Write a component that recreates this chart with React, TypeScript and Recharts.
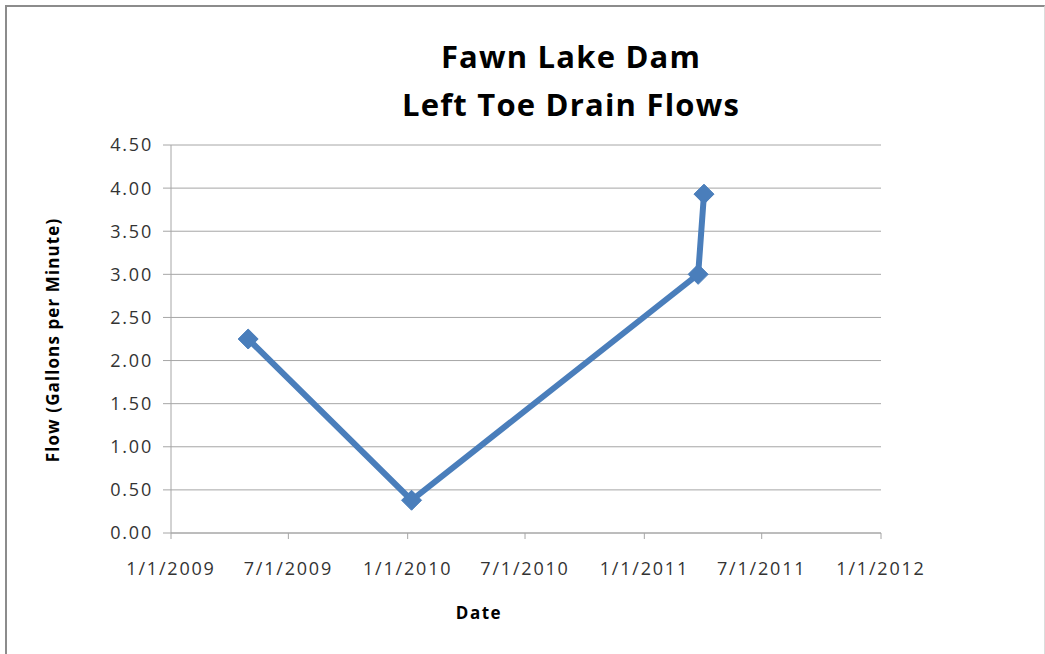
import React from 'react';
import { LineChart, Line, XAxis, YAxis, CartesianGrid } from 'recharts';

const sampleDates = ['2009-04-30', '2010-01-07', '2011-03-25', '2011-04-03'];
const flowValues = [2.25, 0.38, 3.0, 3.93];
const xTickDates = ['2009-01-01', '2009-07-01', '2010-01-01', '2010-07-01', '2011-01-01', '2011-07-01', '2012-01-01'];
const yTicks = [0, 0.5, 1, 1.5, 2, 2.5, 3, 3.5, 4, 4.5];
const titleLines = ['Fawn Lake Dam', 'Left Toe Drain Flows'];
const yAxisTitle = 'Flow (Gallons per Minute)';
const xAxisTitle = 'Date';

const toTs = (s: string) => Date.parse(s + 'T00:00:00Z');
const data = sampleDates.map((d, i) => ({ t: toTs(d), flow: flowValues[i] }));
const xTicks = xTickDates.map(toTs);

const fmtDate = (v: number) => {
  const d = new Date(v);
  return `${d.getUTCMonth() + 1}/${d.getUTCDate()}/${d.getUTCFullYear()}`;
};

const FONT = '"Open Sans", "Noto Sans", sans-serif';
const BLUE = '#4A7EBB';

const Diamond = (props: any) => {
  const { cx, cy } = props;
  if (cx == null || cy == null) return null;
  const r = 10;
  return (
    <polygon
      points={`${cx},${cy - r} ${cx + r},${cy} ${cx},${cy + r} ${cx - r},${cy}`}
      fill={BLUE}
      stroke={BLUE}
      strokeWidth={1}
    />
  );
};

export default function App() {
  return (
    <div style={{ position: 'absolute', left: 0, top: 0, width: 1045, height: 654, overflow: 'hidden', background: '#fff' }}>
      <div
        style={{
          position: 'absolute',
          left: 5,
          top: 5,
          width: 1040,
          height: 649,
          borderLeft: '2px solid #8c8c8c',
          borderTop: '2px solid #8c8c8c',
          borderRight: '1px solid #dcdcdc',
          boxSizing: 'border-box',
        }}
      />
      <div style={{ position: 'absolute', left: 0, top: 0 }}>
        <LineChart
          width={1045}
          height={654}
          data={data}
          margin={{ top: 145, right: 164, bottom: 91, left: 101 }}
        >
          <CartesianGrid horizontal={true} vertical={false} stroke="#a6a6a6" strokeWidth={1} />
          <XAxis
            dataKey="t"
            type="number"
            domain={[xTicks[0], xTicks[xTicks.length - 1]]}
            ticks={xTicks}
            tickFormatter={fmtDate}
            height={30}
            stroke="#a6a6a6"
            tickSize={6}
            tickMargin={23}
            tick={{ fill: '#333', fontSize: 18, fontFamily: FONT, letterSpacing: 1.8 }}
            interval={0}
            allowDataOverflow
          />
          <YAxis
            type="number"
            domain={[0, 4.5]}
            ticks={yTicks}
            tickFormatter={(v: number) => v.toFixed(2)}
            width={70}
            stroke="#a6a6a6"
            tickSize={8}
            tickMargin={10}
            tick={{ fill: '#333', fontSize: 18, fontFamily: FONT, letterSpacing: 1.8 }}
            interval={0}
          />
          <Line
            type="linear"
            dataKey="flow"
            stroke={BLUE}
            strokeWidth={6}
            dot={<Diamond />}
            activeDot={false}
            isAnimationActive={false}
          />
        </LineChart>
      </div>
      <svg
        width={1045}
        height={654}
        style={{ position: 'absolute', left: 0, top: 0, pointerEvents: 'none' }}
      >
        <text x={571} y={68} textAnchor="middle" fontFamily={FONT} fontWeight="bold" fontSize={31} letterSpacing={1.2} fill="#000">
          {titleLines[0]}
        </text>
        <text x={571} y={116} textAnchor="middle" fontFamily={FONT} fontWeight="bold" fontSize={31} letterSpacing={1.2} fill="#000">
          {titleLines[1]}
        </text>
        <text
          x={0}
          y={0}
          transform="translate(59,340) rotate(-90)"
          textAnchor="middle"
          fontFamily={FONT}
          fontWeight="bold"
          fontSize={17}
          letterSpacing={1.1}
          fill="#000"
        >
          {yAxisTitle}
        </text>
        <text x={479} y={619} textAnchor="middle" fontFamily={FONT} fontWeight="bold" fontSize={17} letterSpacing={1.5} fill="#000">
          {xAxisTitle}
        </text>
      </svg>
    </div>
  );
}
